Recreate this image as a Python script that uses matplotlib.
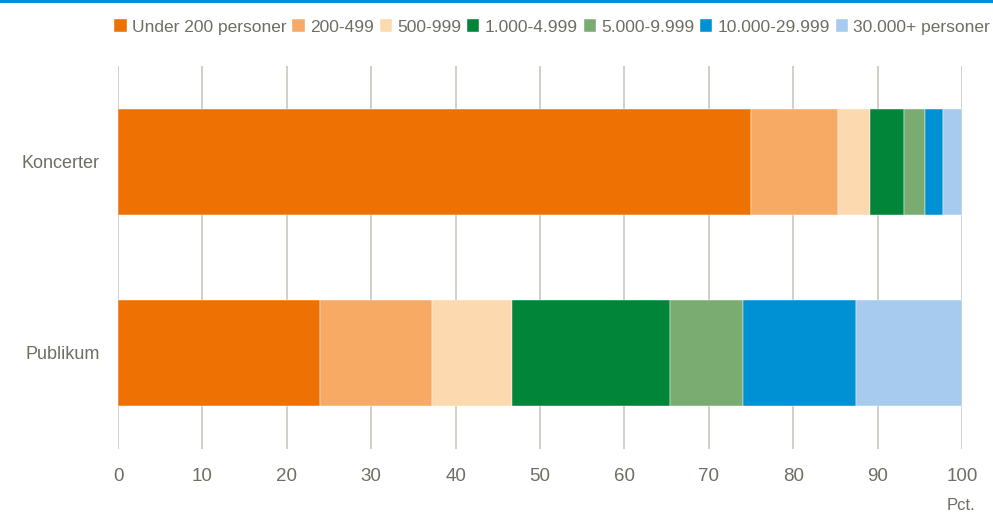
import matplotlib
matplotlib.use("Agg")
import matplotlib.pyplot as plt
from matplotlib.patches import Rectangle

plt.rcParams['font.family'] = ['Liberation Sans', 'DejaVu Sans']

kategorier = ["Publikum", "Koncerter"]
grupper = ["Under 200 personer", "200-499", "500-999", "1.000-4.999",
           "5.000-9.999", "10.000-29.999", "30.000+ personer"]
koncerter = [75.0, 10.3, 3.8, 4.0, 2.5, 2.1, 2.3]
publikum = [23.9, 13.3, 9.5, 18.7, 8.7, 13.3, 12.6]
farver = ["#ee7203", "#f6aa63", "#fdd9af", "#008539", "#7aac72", "#0090d4", "#a6cbee"]

tekstfarve = "#6e6e62"

fig = plt.figure(figsize=(9.93, 5.16), dpi=100)
ax = fig.add_axes([118/993, 1-449/516, 844/993, 383/516])

venstre = [0.0, 0.0]
for i, navn in enumerate(grupper):
    vaerdier = [publikum[i], koncerter[i]]
    ax.barh(kategorier, vaerdier, left=venstre, height=0.555, color=farver[i],
            label=navn, edgecolor="white", linewidth=0.3, zorder=3)
    venstre = [venstre[j] + vaerdier[j] for j in range(2)]

ax.set_xlim(0, 100)
ax.set_ylim(-0.505, 1.5)
ax.set_xticks(range(0, 101, 10))
ax.grid(axis="x", color="#c9c7bd", linewidth=1.2, zorder=0)
for s in ax.spines.values():
    s.set_visible(False)
ax.tick_params(axis="both", length=0, labelcolor=tekstfarve)
ax.tick_params(axis="x", pad=14, labelsize=13.5)
ax.tick_params(axis="y", pad=13, labelsize=13)

fig.text(975/993, 1-505/516, "Pct.", ha="right", va="center", color=tekstfarve, fontsize=12)

fig.legend(loc="center right", bbox_to_anchor=(0.997, 1-27/516), ncol=7, frameon=False,
           fontsize=12.5, handlelength=0.7, handleheight=0.7, handletextpad=0.3,
           columnspacing=0.35, labelcolor=tekstfarve, borderaxespad=0, borderpad=0)

fig.add_artist(Rectangle((0, 1-3/516), 1, 3/516, transform=fig.transFigure,
                         color="#0090d4", lw=0))

fig.savefig("out.png", dpi=100)
